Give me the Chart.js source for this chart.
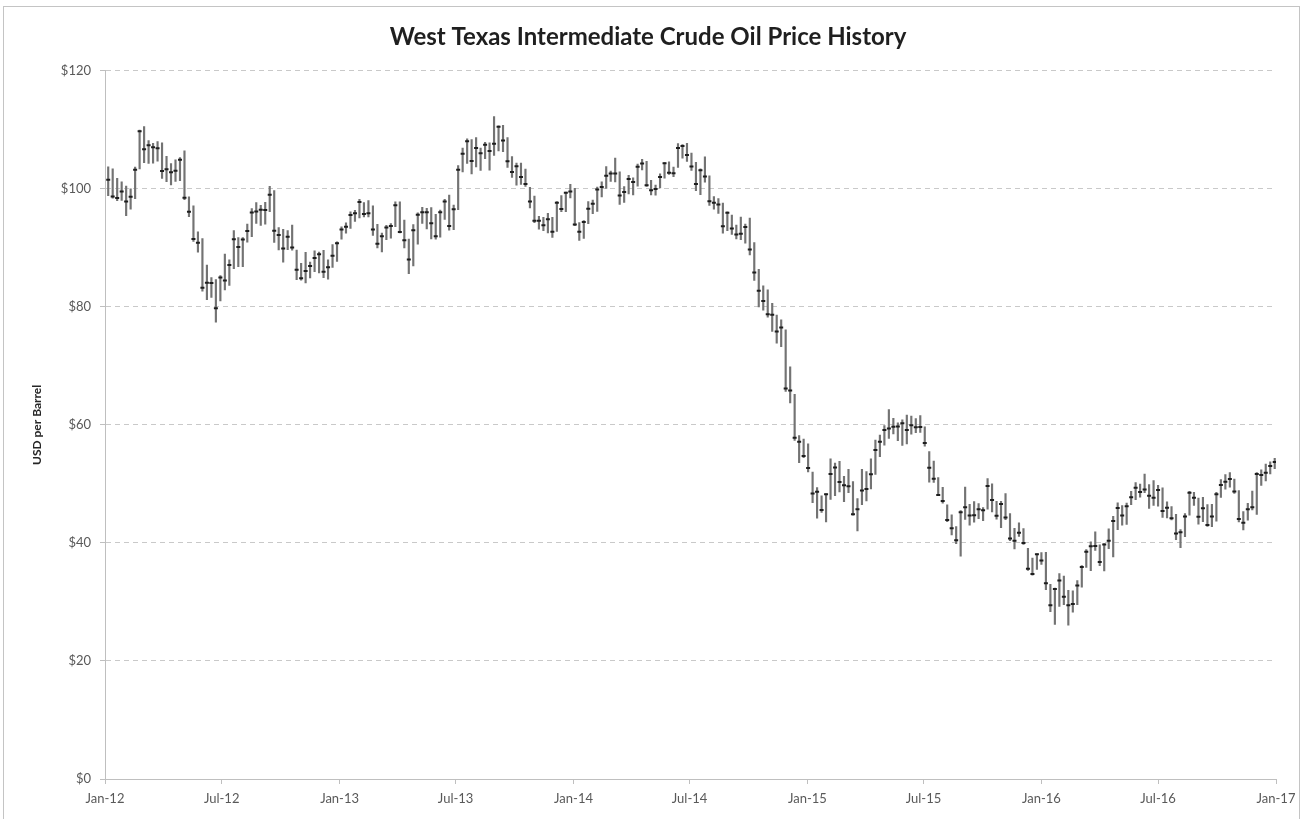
<!DOCTYPE html>
<html>
<head>
<meta charset="utf-8">
<script src="https://cdn.jsdelivr.net/npm/chart.js@4.4.1/dist/chart.umd.min.js"></script>
<style>
  html, body { margin: 0; padding: 0; background: #ffffff; }
  #frame { position: absolute; left: 3px; top: 6px; width: 1297px; height: 840px; border: 1px solid #c4c4c4; box-sizing: border-box; }
  #wrap { position: absolute; left: 0; top: 0; width: 1305px; height: 819px; }
</style>
</head>
<body>
<div id="frame"></div>
<div id="wrap"><canvas id="c" width="1305" height="819"></canvas></div>
<script>
// ---- Data (weekly, week ending Friday) ----
const firstWeekEnding = '2012-01-06';

const weeklyClose = [
  // 2012
  101.56, 98.70, 98.46, 99.56, 97.84, 98.67, 103.24, 109.77, 106.70, 107.40,
  107.06, 106.87, 103.02, 103.31, 102.83, 103.05, 104.93, 98.49, 96.13, 91.48,
  90.86, 83.23, 84.10, 84.03, 79.76, 84.96, 84.45, 87.10, 91.44, 90.13,
  91.40, 92.87, 96.01, 96.15, 96.47, 96.42, 99.00, 92.89, 92.19, 89.88,
  91.86, 90.05, 86.28, 84.86, 86.07, 86.92, 88.28, 88.91, 85.93, 86.73,
  88.66, 90.80, 93.09,
  // 2013
  93.56, 95.56, 95.88, 97.77, 95.72, 95.86, 93.13, 90.68, 91.95, 93.45,
  93.71, 97.23, 92.70, 91.29, 88.01, 93.00, 95.61, 96.04, 96.02, 94.15,
  91.97, 96.03, 97.85, 93.69, 96.56, 103.22, 105.95, 108.05, 104.70, 106.94,
  106.03, 107.46, 106.42, 107.65, 110.53, 108.21, 104.67, 102.87, 103.84, 102.02,
  100.81, 97.85, 94.61, 94.60, 93.84, 94.84, 92.72, 97.65, 96.60, 99.32,
  99.55, 93.96,
  // 2014
  92.72, 94.37, 96.64, 97.49, 99.88, 100.30, 102.20, 102.59, 102.58, 98.89,
  99.46, 101.67, 101.14, 103.74, 104.30, 100.60, 99.76, 99.99, 102.02, 104.35,
  102.71, 102.66, 106.91, 107.26, 105.74, 103.77, 100.83, 103.13, 102.09, 97.88,
  97.65, 97.35, 93.65, 95.96, 93.29, 92.27, 92.41, 93.54, 89.74, 85.82,
  82.75, 81.01, 78.77, 78.65, 75.82, 76.51, 66.15, 65.84, 57.81, 57.13,
  54.73, 52.69,
  // 2015
  48.36, 48.69, 45.59, 48.24, 51.69, 52.78, 50.34, 49.76, 49.61, 44.84,
  45.72, 48.87, 49.14, 51.64, 55.74, 57.15, 59.15, 59.39, 59.69, 59.72,
  60.30, 59.13, 59.96, 59.61, 59.63, 56.93, 52.74, 50.89, 48.14, 47.12,
  43.87, 42.50, 40.45, 45.22, 46.05, 44.63, 44.68, 45.70, 45.54, 49.63,
  47.26, 44.60, 46.59, 44.29, 40.74, 40.39, 41.71, 39.97, 35.62, 34.73,
  38.10, 37.04,
  // 2016
  33.16, 29.42, 32.19, 33.62, 30.89, 29.44, 29.64, 32.78, 35.92, 38.50,
  39.44, 39.46, 36.79, 39.72, 40.36, 43.73, 45.92, 44.66, 46.21, 47.75,
  49.33, 48.62, 49.07, 47.98, 47.64, 48.99, 45.41, 45.95, 44.19, 41.60,
  41.80, 44.49, 48.52, 47.64, 44.44, 45.88, 43.03, 44.48, 48.24, 49.81,
  50.35, 50.85, 48.70, 44.07, 43.41, 45.69, 46.06, 51.68, 51.50, 51.90,
  53.02, 53.72
];

const weeklyHigh = [
  // 2012
  103.74, 103.41, 101.80, 101.20, 100.46, 99.98, 103.67, 109.95, 110.55, 108.18,
  107.72, 108.00, 107.80, 105.49, 104.26, 104.93, 105.31, 106.43, 98.65, 97.10,
  92.70, 91.59, 87.10, 84.98, 84.63, 85.30, 88.95, 87.96, 92.94, 91.72,
  91.75, 94.01, 96.66, 97.69, 97.19, 97.72, 100.42, 99.72, 93.42, 93.15,
  92.91, 93.85, 89.64, 87.39, 89.24, 87.60, 89.50, 89.30, 89.58, 87.95,
  90.54, 91.00, 93.56,
  // 2013
  94.24, 96.12, 96.35, 98.24, 97.65, 98.03, 97.11, 94.00, 92.50, 93.80,
  94.10, 97.80, 97.80, 94.69, 91.48, 93.95, 95.93, 96.88, 96.71, 96.81,
  95.70, 96.39, 98.21, 98.95, 97.23, 103.93, 106.91, 108.46, 108.33, 108.70,
  106.90, 107.88, 107.81, 112.24, 110.66, 110.74, 108.70, 105.45, 104.35, 104.37,
  103.36, 100.25, 98.79, 95.32, 95.18, 95.83, 95.18, 97.86, 98.85, 99.47,
  100.75, 100.09,
  // 2014
  94.29, 94.60, 97.84, 98.09, 100.31, 101.19, 103.76, 103.00, 105.22, 102.88,
  100.40, 102.29, 101.86, 104.20, 104.99, 104.67, 101.43, 100.65, 102.53, 104.46,
  104.59, 103.68, 107.68, 107.50, 107.73, 106.06, 104.48, 103.38, 105.43, 102.19,
  98.70, 98.36, 97.59, 96.10, 95.55, 93.85, 95.21, 94.04, 95.03, 90.88,
  86.38, 83.56, 82.89, 80.58, 78.59, 77.80, 76.13, 69.86, 65.19, 58.20,
  57.59, 56.80,
  // 2015
  52.00, 49.40, 48.00, 48.30, 54.24, 53.53, 53.81, 51.29, 52.48, 50.40,
  47.50, 52.48, 52.07, 54.24, 57.42, 58.28, 59.90, 62.58, 61.10, 60.33,
  60.84, 61.68, 61.48, 61.07, 61.58, 59.69, 55.50, 53.88, 51.06, 49.44,
  46.46, 44.78, 42.76, 45.50, 49.46, 46.54, 47.00, 46.65, 46.00, 50.92,
  50.03, 47.07, 47.06, 48.36, 44.98, 42.46, 43.42, 42.45, 39.08, 37.45,
  38.15, 38.36,
  // 2016
  38.39, 33.00, 32.35, 34.82, 34.40, 31.98, 31.90, 33.62, 36.16, 38.88,
  40.20, 41.90, 39.69, 39.90, 42.41, 44.49, 46.78, 46.34, 46.74, 48.74,
  50.21, 49.98, 51.67, 49.88, 50.57, 49.76, 49.33, 46.96, 46.14, 44.85,
  42.28, 44.97, 48.75, 48.56, 47.60, 47.74, 46.48, 46.55, 48.56, 50.74,
  51.60, 51.93, 50.81, 48.89, 45.30, 46.73, 48.79, 51.92, 52.37, 53.38,
  53.73, 54.33
];

const weeklyLow = [
  // 2012
  98.83, 98.42, 97.99, 98.02, 95.44, 96.55, 98.35, 103.38, 104.45, 104.31,
  104.36, 104.67, 101.76, 101.20, 100.68, 101.24, 101.38, 98.15, 95.27, 91.07,
  89.25, 82.64, 81.21, 81.62, 77.40, 81.00, 82.88, 83.65, 86.48, 86.82,
  86.80, 90.95, 91.90, 94.13, 93.81, 94.00, 96.12, 90.91, 89.64, 87.56,
  89.68, 89.61, 84.60, 84.52, 84.05, 84.90, 85.97, 85.76, 84.95, 84.70,
  86.68, 87.72, 91.49,
  // 2013
  92.48, 93.31, 94.47, 95.06, 95.25, 95.26, 92.10, 90.00, 89.33, 91.39,
  91.63, 93.57, 92.52, 90.00, 85.61, 86.93, 90.61, 94.13, 93.22, 91.53,
  91.49, 91.83, 94.83, 93.00, 93.06, 96.45, 102.87, 104.31, 102.53, 103.71,
  103.13, 105.12, 103.17, 105.66, 106.41, 106.30, 103.61, 101.95, 100.62, 100.75,
  100.39, 96.77, 94.26, 93.18, 92.90, 92.55, 91.77, 92.79, 96.12, 96.13,
  98.46, 93.76,
  // 2014
  91.24, 91.61, 94.10, 95.80, 96.18, 98.63, 100.07, 101.27, 101.18, 97.37,
  97.70, 99.12, 98.95, 100.44, 103.20, 100.39, 98.95, 98.94, 100.16, 101.79,
  102.43, 102.04, 103.62, 105.21, 104.65, 103.11, 99.67, 99.00, 101.11, 97.17,
  96.55, 95.84, 92.50, 92.90, 92.26, 91.50, 91.40, 90.80, 88.81, 84.50,
  80.01, 79.44, 78.27, 75.84, 73.84, 73.25, 65.69, 63.72, 57.35, 53.60,
  54.45, 52.03,
  // 2015
  46.83, 44.20, 45.19, 43.58, 47.36, 48.01, 48.66, 47.01, 48.51, 44.72,
  42.03, 46.50, 47.12, 49.17, 51.63, 54.62, 56.55, 57.70, 58.49, 57.32,
  56.51, 56.79, 58.45, 58.69, 58.72, 56.40, 50.30, 50.25, 48.05, 46.75,
  43.62, 41.35, 39.86, 37.75, 44.00, 43.02, 43.50, 44.12, 43.77, 45.71,
  45.25, 44.02, 42.58, 43.95, 40.37, 38.99, 41.11, 39.75, 35.35, 34.53,
  35.52, 36.37,
  // 2016
  32.10, 28.36, 26.19, 29.25, 29.55, 26.05, 28.25, 29.53, 32.50, 35.83,
  35.31, 38.74, 36.15, 35.24, 39.02, 37.61, 42.24, 43.03, 43.12, 46.47,
  47.34, 47.75, 48.52, 45.83, 46.37, 46.22, 44.31, 44.25, 43.89, 40.57,
  39.19, 41.07, 44.71, 46.35, 43.19, 43.59, 42.80, 42.74, 43.68, 47.70,
  49.13, 49.44, 48.40, 43.57, 42.20, 43.87, 45.58, 44.82, 49.76, 50.49,
  51.69, 52.59
];

const xTickDates = ['2012-01-01','2012-07-01','2013-01-01','2013-07-01','2014-01-01','2014-07-01',
                    '2015-01-01','2015-07-01','2016-01-01','2016-07-01','2017-01-01'];
const xTickLabels = ['Jan-12','Jul-12','Jan-13','Jul-13','Jan-14','Jul-14',
                     'Jan-15','Jul-15','Jan-16','Jul-16','Jan-17'];
const yTickValues = [0, 20, 40, 60, 80, 100, 120];

// ---- helpers ----
const DAY = 86400000;
const origin = Date.UTC(2012, 0, 1);
function dayOf(iso) {
  const [y, m, d] = iso.split('-').map(Number);
  return Math.round((Date.UTC(y, m - 1, d) - origin) / DAY);
}
const firstDay = dayOf(firstWeekEnding);
const weekDays = weeklyClose.map((_, i) => firstDay + 7 * i);
const xTickDays = xTickDates.map(dayOf);

const rangeData = weekDays.map((d, i) => ({ x: d, y: [weeklyLow[i], weeklyHigh[i]] }));
const closeData = weekDays.map((d, i) => ({ x: d, y: weeklyClose[i] }));

const FONT = 'Lato, "Open Sans", "DejaVu Sans", sans-serif';

new Chart(document.getElementById('c'), {
  type: 'bar',
  data: {
    datasets: [
      {
        type: 'scatter',
        label: 'Close',
        data: closeData,
        pointStyle: 'line',
        pointRadius: 2,
        pointHoverRadius: 2,
        borderColor: '#1e1e1e',
        backgroundColor: '#1e1e1e',
        borderWidth: 2,
        showLine: false,
        order: 1
      },
      {
        type: 'bar',
        label: 'High-Low',
        data: rangeData,
        backgroundColor: '#737373',
        borderWidth: 0,
        barThickness: 1.5,
        grouped: false,
        order: 2
      }
    ]
  },
  options: {
    responsive: false,
    animation: false,
    events: [],
    layout: { padding: { left: 20, right: 29, top: 1, bottom: 0 } },
    plugins: {
      legend: { display: false },
      tooltip: { enabled: false },
      title: {
        display: true,
        text: 'West Texas Intermediate Crude Oil Price History',
        color: '#1f1f1f',
        font: { family: FONT, size: 24, weight: 'bold', lineHeight: 1.2 },
        padding: { top: 22, bottom: 19 }
      }
    },
    scales: {
      x: {
        type: 'linear',
        min: xTickDays[0],
        max: xTickDays[xTickDays.length - 1],
        offset: false,
        afterBuildTicks: (s) => { s.ticks = xTickDays.map(v => ({ value: v })); },
        afterFit: (s) => { s.height = 40; },
        ticks: {
          autoSkip: false,
          maxRotation: 0,
          padding: 7,
          color: '#595959',
          font: { family: FONT, size: 13 },
          callback: (v, i) => xTickLabels[i]
        },
        grid: { display: true, offset: false, drawOnChartArea: false, drawTicks: true, tickLength: 5, color: '#bfbfbf' },
        border: { display: true, color: '#bfbfbf', width: 1 }
      },
      y: {
        type: 'linear',
        min: 0,
        max: 120,
        afterBuildTicks: (s) => { s.ticks = yTickValues.map(v => ({ value: v })); },
        afterFit: (s) => { s.width = 85; },
        ticks: {
          padding: 9,
          color: '#595959',
          font: { family: FONT, size: 13 },
          callback: (v) => '$' + v
        },
        grid: { color: '#c9c9c9', tickColor: '#bfbfbf', drawTicks: true, tickLength: 5, lineWidth: 1 },
        border: { display: true, color: '#bfbfbf', width: 1, dash: [5, 4] },
        title: {
          display: true,
          text: 'USD per Barrel',
          color: '#262626',
          font: { family: FONT, size: 12, weight: 'bold' },
          padding: { top: 10, bottom: 0 }
        }
      }
    }
  }
});
</script>
</body>
</html>
